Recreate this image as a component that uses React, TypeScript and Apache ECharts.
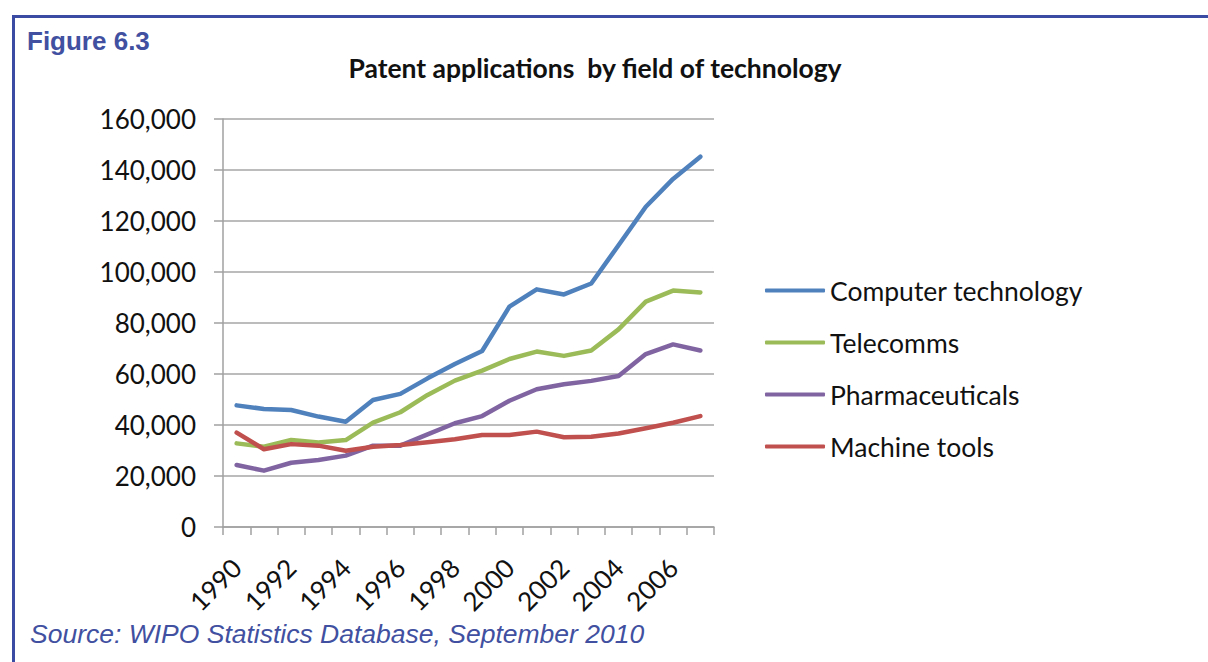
import React, { useEffect, useRef } from "react";
import * as echarts from "echarts";

const years = ["1990","1991","1992","1993","1994","1995","1996","1997","1998","1999","2000","2001","2002","2003","2004","2005","2006","2007"];
const computerTechnology = [47700, 46300, 45900, 43300, 41300, 49800, 52200, 58300, 63900, 69000, 86400, 93200, 91200, 95500, 110500, 125600, 136500, 145200];
const telecomms = [32800, 31500, 34100, 33100, 34100, 40900, 45000, 51800, 57400, 61300, 65900, 68800, 67100, 69200, 77500, 88400, 92700, 92000];
const pharmaceuticals = [24300, 22100, 25200, 26300, 28000, 31900, 31900, 36300, 40700, 43500, 49500, 54000, 56000, 57300, 59200, 67800, 71600, 69200];
const machineTools = [37000, 30500, 32500, 31900, 29900, 31500, 32200, 33200, 34400, 36100, 36100, 37400, 35200, 35400, 36700, 38700, 40900, 43500];
const seriesNames = ["Computer technology", "Telecomms", "Pharmaceuticals", "Machine tools"];
const seriesColors = ["#4F81BD", "#9BBB59", "#8064A2", "#C0504D"];

export default function App() {
  const ref = useRef<HTMLDivElement>(null);
  useEffect(() => {
    if (!ref.current) return;
    const chart = echarts.init(ref.current, undefined, { renderer: "svg" });
    const font = "Lato, 'Open Sans', sans-serif";
    const dataSets = [computerTechnology, telecomms, pharmaceuticals, machineTools];
    chart.setOption({
      animation: false,
      backgroundColor: "#ffffff",
      title: {
        text: "Patent applications  by field of technology",
        left: 590,
        top: 49,
        textAlign: "center",
        textStyle: { fontFamily: font, fontWeight: "bold", fontSize: 26.5, color: "#111" },
      },
      graphic: [
        {
          type: "rect",
          shape: { x: 13.5, y: 16.5, width: 1250, height: 700 },
          style: { fill: "none", stroke: "#3B4BA3", lineWidth: 3 },
          silent: true,
        },
        {
          type: "text",
          x: 27,
          y: 28,
          style: { text: "Figure 6.3", fontFamily: "'Liberation Sans', Arial, sans-serif", fontWeight: "bold", fontSize: 26, fill: "#4150A0" },
        },
        {
          type: "text",
          x: 30,
          y: 620,
          style: { text: "Source: WIPO Statistics Database, September 2010", fontFamily: "'Liberation Sans', Arial, sans-serif", fontStyle: "italic", fontSize: 26.5, fill: "#4150A0" },
        },
      ],
      legend: {
        orient: "vertical",
        left: 765,
        top: 277,
        padding: 0,
        itemWidth: 60,
        itemHeight: 4,
        itemGap: 25,
        icon: "roundRect",
        data: seriesNames,
        textStyle: { fontFamily: font, fontSize: 26.5, color: "#111" },
      },
      grid: { left: 223, top: 119, width: 491, height: 408, containLabel: false },
      xAxis: {
        type: "category",
        data: years,
        boundaryGap: true,
        axisLine: { lineStyle: { color: "#A0A0A0", width: 1.5 } },
        axisTick: { show: true, interval: 0, length: 8, lineStyle: { color: "#A0A0A0", width: 1.5 } },
        axisLabel: { interval: 1, rotate: 45, margin: 36, fontFamily: font, fontSize: 26, color: "#111" },
        splitLine: { show: false },
      },
      yAxis: {
        type: "value",
        min: 0,
        max: 160000,
        interval: 20000,
        axisLine: { show: true, lineStyle: { color: "#A0A0A0", width: 1.5 } },
        axisTick: { show: true, length: 9, lineStyle: { color: "#A0A0A0", width: 1.5 } },
        axisLabel: {
          margin: 27,
          fontFamily: font,
          fontSize: 26,
          color: "#111",
          formatter: (v: number) => v.toLocaleString("en-US"),
        },
        splitLine: { lineStyle: { color: "#A6A6A6", width: 1.5 } },
      },
      series: seriesNames.map((name, i) => ({
        name,
        type: "line",
        data: dataSets[i],
        showSymbol: false,
        symbol: "none",
        color: seriesColors[i],
        lineStyle: { width: 4.5, color: seriesColors[i], cap: "round", join: "round" },
      })),
    });
    return () => chart.dispose();
  }, []);
  return (
    <div style={{ position: "absolute", left: 0, top: 0, width: 1208, height: 662, background: "#fff" }}>
      <div ref={ref} style={{ width: 1208, height: 662 }} />
    </div>
  );
}
